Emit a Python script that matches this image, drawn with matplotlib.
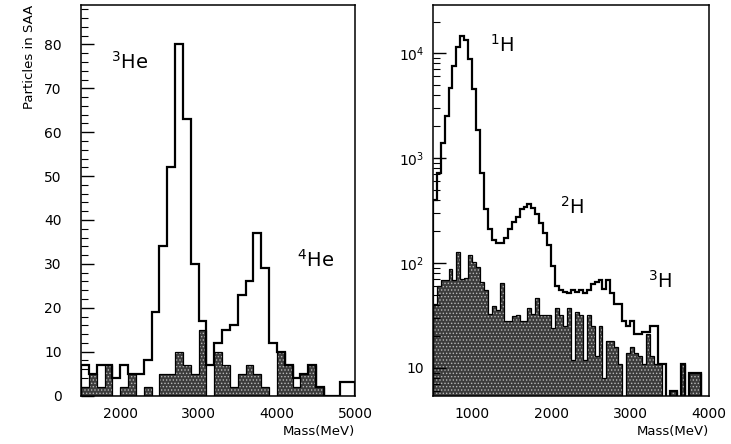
import numpy as np
import matplotlib
matplotlib.use('Agg')
import matplotlib.pyplot as plt
from matplotlib.ticker import MultipleLocator, FixedLocator, LogLocator, NullFormatter

# Helium panel: 100 MeV bins from 1500 to 5000 MeV
he_bin_lo = np.arange(1500, 5000, 100)
he_bin_width = 100
he_all = [7, 5, 7, 7, 4, 7, 5, 5, 8, 19, 34, 52, 80, 63, 30, 17, 7, 12, 15, 16,
          23, 26, 37, 29, 12, 10, 7, 4, 5, 7, 2, 0, 0, 3, 3]
he_bg = [2, 5, 2, 7, 0, 2, 5, 0, 2, 0, 5, 5, 10, 7, 5, 15, 0, 10, 7, 2,
         5, 7, 5, 2, 0, 10, 7, 2, 5, 7, 2, 0, 0, 0, 0]

# Hydrogen panel: 50 MeV bins from 500 to 4000 MeV
h_bin_lo = np.arange(500, 4000, 50)
h_bin_width = 50
h_all = [400, 720, 1380, 2500, 4650, 7600, 11500, 14400, 13400, 8700,
         4500, 1860, 720, 325, 210, 166, 155, 155, 173, 210,
         244, 276, 325, 345, 365, 333, 296, 240, 192, 149,
         93, 60, 55, 53, 52, 55, 53, 55, 52, 55,
         63, 66, 69, 56, 69, 52, 41, 41, 28, 25,
         28, 21, 21, 22, 22, 25, 25, 11, 11, 0,
         6, 6, 0, 11, 0, 9, 9, 9, 0, 0]
h_bg = [41, 60, 69, 69, 87, 69, 126, 70, 72, 120,
        103, 92, 66, 55, 33, 39, 36, 64, 28, 28,
        31, 32, 28, 28, 37, 33, 46, 32, 32, 32,
        24, 37, 32, 25, 37, 12, 34, 32, 12, 32,
        25, 13, 25, 8, 18, 18, 16, 11, 0, 14,
        16, 14, 13, 11, 21, 13, 11, 11, 0, 0,
        6, 6, 0, 11, 0, 9, 9, 9, 0, 0]

he_labels = [(r'$^3$He', 1880, 76), (r'$^4$He', 4250, 31)]
h_labels = [(r'$^1$H', 1220, 12000), (r'$^2$H', 2110, 340), (r'$^3$H', 3230, 68)]

SHADE = '#3c3c3c'
DOTS = '#b8b8b8'

plt.rcParams['hatch.linewidth'] = 0.6

fig = plt.figure(figsize=(7.31, 4.44), dpi=100)
ax1 = fig.add_axes([0.111, 0.109, 0.375, 0.880])
ax2 = fig.add_axes([0.592, 0.109, 0.378, 0.880])

# left panel
edges = np.append(he_bin_lo, he_bin_lo[-1] + he_bin_width)
ax1.stairs(he_bg, edges, fill=True, facecolor=SHADE, edgecolor=DOTS,
           hatch='.....', linewidth=0)
ax1.stairs(he_bg, edges, color='black', linewidth=0.9)
ax1.stairs(he_all, edges, color='black', linewidth=1.6)
for txt, x, y in he_labels:
    ax1.text(x, y, txt, fontsize=14, ha='left', va='center')

ax1.set_xlim(1500, 5000)
ax1.set_ylim(0, 89)
ax1.set_xticks([2000, 3000, 4000, 5000])
ax1.yaxis.set_major_locator(MultipleLocator(10))
ax1.yaxis.set_minor_locator(MultipleLocator(2))
ax1.set_yticks(range(0, 81, 10))
ax1.tick_params(axis='y', which='major', direction='in', length=9, width=1, labelsize=10, pad=14)
ax1.tick_params(axis='y', which='minor', direction='in', length=5, width=0.8)
ax1.tick_params(axis='x', length=0, labelsize=10, pad=8)
ax1.set_ylabel('Particles in SAA', loc='top', fontsize=9.5, labelpad=6)
ax1.set_xlabel('Mass(MeV)', loc='right', fontsize=9.5, labelpad=3)

# right panel
ax2.set_yscale('log')
h_edges = np.append(h_bin_lo, h_bin_lo[-1] + h_bin_width)
bg_plot = np.where(np.array(h_bg) > 0, h_bg, 0.1)
all_plot = np.where(np.array(h_all) > 0, h_all, 0.1)
ax2.stairs(bg_plot, h_edges, fill=True, baseline=0.1, facecolor=SHADE,
           edgecolor=DOTS, hatch='.....', linewidth=0)
ax2.stairs(bg_plot, h_edges, baseline=0.1, color='black', linewidth=0.9)
ax2.stairs(all_plot, h_edges, baseline=0.1, color='black', linewidth=1.6)
for txt, x, y in h_labels:
    ax2.text(x, y, txt, fontsize=14, ha='left', va='center')

ax2.set_xlim(500, 4000)
ax2.set_ylim(5.45, 28800)
ax2.set_xticks([1000, 2000, 3000, 4000])
ax2.yaxis.set_major_locator(FixedLocator([10, 100, 1000, 10000]))
ax2.set_yticklabels(['10', r'$10^2$', r'$10^3$', r'$10^4$'])
ax2.yaxis.set_minor_locator(LogLocator(base=10, subs=np.arange(2, 10)))
ax2.yaxis.set_minor_formatter(NullFormatter())
ax2.tick_params(axis='y', which='major', direction='in', length=9, width=1, labelsize=10, pad=6)
ax2.tick_params(axis='y', which='minor', direction='in', length=5, width=0.8)
ax2.tick_params(axis='x', length=0, labelsize=10, pad=8)
ax2.set_xlabel('Mass(MeV)', loc='right', fontsize=9.5, labelpad=3)

for ax in (ax1, ax2):
    for s in ax.spines.values():
        s.set_linewidth(1.1)

fig.savefig('out.png', dpi=100)
